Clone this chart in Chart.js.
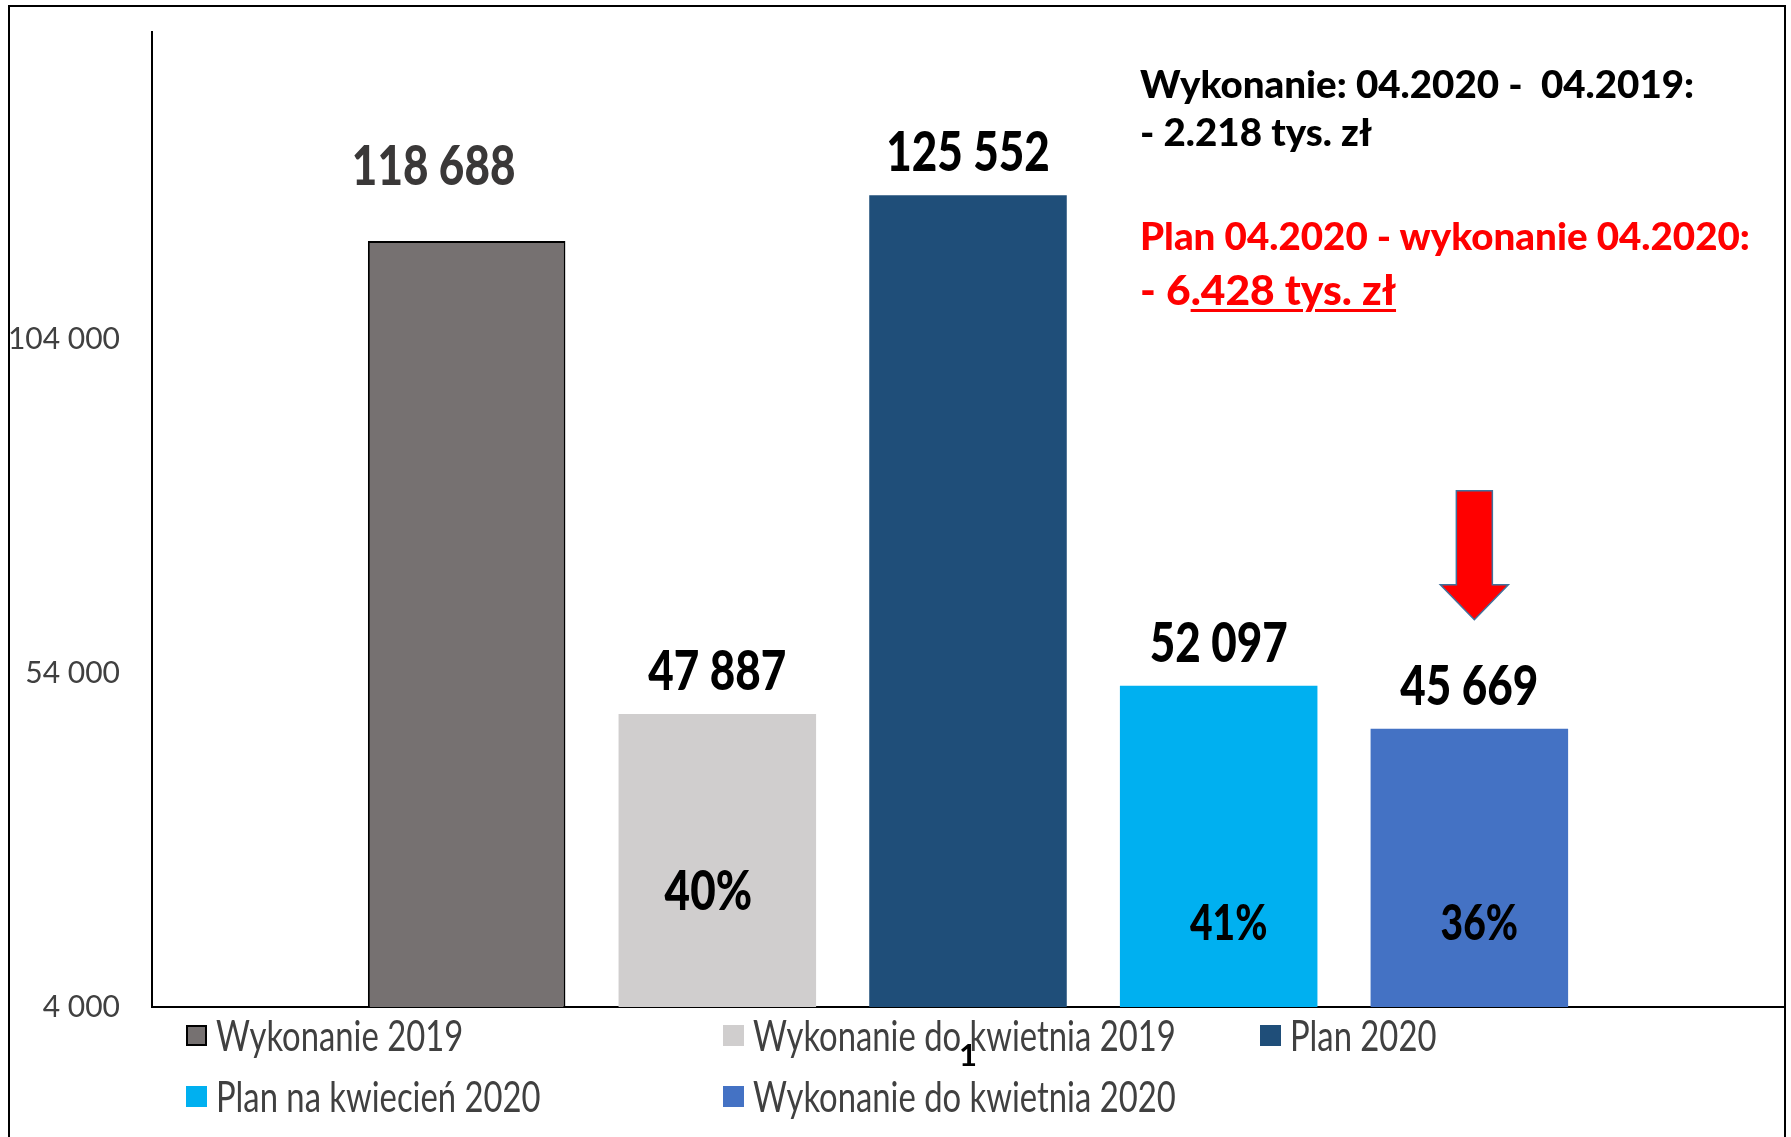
<!DOCTYPE html>
<html>
<head>
<meta charset="utf-8">
<script src="https://cdn.jsdelivr.net/npm/chart.js@4.4.1/dist/chart.umd.min.js"></script>
<style>
  html, body { margin: 0; padding: 0; background: #fff; }
  #page { position: relative; width: 1791px; height: 1137px; overflow: hidden; background: #fff; }
  #chart { position: absolute; left: 0; top: 0; }
  #frame { position: absolute; left: 8px; top: 5px; width: 1774px; height: 1300px; border: 2px solid #000; pointer-events: none; }
  .note { position: absolute; left: 1140px; font-family: Lato, sans-serif; font-weight: 900; white-space: pre; line-height: 1; }
  .black { color: #000; font-size: 38.5px; }
  .red { color: #ff0000; font-size: 38.5px; }
  .big { font-size: 42.5px; }
  .u { text-decoration: underline; text-decoration-thickness: 3px; text-underline-offset: 4px; }
  .legend-item { position: absolute; display: flex; align-items: center; height: 40px; margin-top: -20px;
    font-family: Lato, sans-serif; font-size: 32.8px; color: #404040; white-space: nowrap; }
  .legend-item span.t { display: inline-block; transform: scaleY(1.27); }
  .legend-box { width: 21px; height: 21px; margin-right: 9px; box-sizing: border-box; }
</style>
</head>
<body>
<div id="page">
  <canvas id="chart" width="1791" height="1137"></canvas>
  <div id="frame"></div>
  <div class="note black" style="top:64px">Wykonanie: 04.2020 -  04.2019:</div>
  <div class="note black" style="top:112px">- 2.218 tys. zł</div>
  <div class="note red" style="top:216px">Plan 04.2020 - wykonanie 04.2020:</div>
  <div class="note red big" style="top:268px">- 6<span class="u">.428 tys. zł</span></div>
  <div id="legend"></div>
</div>
<script>
const categories = ['1'];
const seriesNames = ['Wykonanie 2019', 'Wykonanie do kwietnia 2019', 'Plan 2020', 'Plan na kwiecień 2020', 'Wykonanie do kwietnia 2020'];
const seriesValues = [118688, 47887, 125552, 52097, 45669];
const shareLabels = [null, '40%', null, '41%', '36%'];
const yTicks = [4000, 54000, 104000];

const colors = ['#767171', '#d0cece', '#1f4e79', '#00b0f0', '#4472c4'];
const FONT = 'Lato, sans-serif';
const STRETCH = 1.27; // the original text is tall and narrow

function fmt(n) {
  return String(n).replace(/\B(?=(\d{3})+(?!\d))/g, ' ');
}

function tallText(ctx, text, x, y, font) {
  ctx.save();
  ctx.translate(x, y);
  ctx.scale(1, STRETCH);
  ctx.font = font;
  ctx.fillText(text, 0, 0);
  ctx.restore();
}

// value labels above bars, share labels inside bars, red arrow over the last bar
const barLabels = {
  id: 'barLabels',
  afterDatasetsDraw(chart) {
    const ctx = chart.ctx;
    const area = chart.chartArea;
    ctx.save();
    ctx.textAlign = 'center';
    ctx.textBaseline = 'alphabetic';
    chart.data.datasets.forEach((ds, i) => {
      const bar = chart.getDatasetMeta(i).data[0];
      ctx.fillStyle = i === 0 ? '#3a3838' : '#000';
      const dx = i === 0 ? -33 : 0;
      const lift = i === 0 ? 56 : 24;
      tallText(ctx, fmt(ds.data[0]), bar.x + dx, bar.y - lift, '900 44px ' + FONT);

      if (shareLabels[i]) {
        const first = i === 1;
        ctx.fillStyle = '#000';
        tallText(ctx, shareLabels[i], bar.x + (first ? -9 : 10), area.bottom - (first ? 97 : 67),
          '900 ' + (first ? 44 : 39) + 'px ' + FONT);
      }
    });

    // arrow
    const last = chart.getDatasetMeta(chart.data.datasets.length - 1).data[0];
    const ax = last.x + 5;
    const tip = last.y - 109;
    ctx.beginPath();
    ctx.moveTo(ax - 18, tip - 129);
    ctx.lineTo(ax + 18, tip - 129);
    ctx.lineTo(ax + 18, tip - 35);
    ctx.lineTo(ax + 34, tip - 35);
    ctx.lineTo(ax, tip);
    ctx.lineTo(ax - 34, tip - 35);
    ctx.lineTo(ax - 18, tip - 35);
    ctx.closePath();
    ctx.fillStyle = '#ff0000';
    ctx.fill();
    ctx.lineWidth = 1.5;
    ctx.strokeStyle = '#41719c';
    ctx.stroke();
    ctx.restore();
  }
};

const chart = new Chart(document.getElementById('chart'), {
  type: 'bar',
  data: {
    labels: categories,
    datasets: seriesNames.map((name, i) => ({
      label: name,
      data: [seriesValues[i]],
      backgroundColor: colors[i],
      borderColor: '#000',
      borderWidth: i === 0 ? 2 : 0,
      categoryPercentage: 0.768,
      barPercentage: 0.788
    }))
  },
  options: {
    responsive: false,
    animation: false,
    layout: { padding: { top: 32, right: 7, left: 0, bottom: 0 } },
    plugins: {
      legend: { display: false },
      tooltip: { enabled: false }
    },
    scales: {
      x: {
        grid: { display: true, color: 'transparent', drawTicks: false },
        border: { display: true, color: '#000', width: 2 },
        ticks: { color: '#000', padding: 30, font: { family: FONT, size: 31, weight: 'bold' } },
        afterFit(s) { s.height = 130; }
      },
      y: {
        min: 4000,
        max: 150000,
        grid: { display: true, color: 'transparent', drawTicks: false },
        border: { display: true, color: '#000', width: 2 },
        afterBuildTicks(s) { s.ticks = yTicks.map(v => ({ value: v })); },
        ticks: {
          color: '#404040',
          padding: 32,
          font: { family: FONT, size: 30 },
          callback: v => fmt(v)
        },
        afterFit(s) {
          s.width = 152;
          s.paddingTop = 0;
          s.paddingBottom = 0;
        }
      }
    }
  },
  plugins: [barLabels]
});

// legend in a grid below the chart
const legend = document.getElementById('legend');
chart.data.datasets.forEach((ds, i) => {
  const item = document.createElement('div');
  item.className = 'legend-item';
  item.style.left = (186 + (i % 3) * 537) + 'px';
  item.style.top = (1035 + Math.floor(i / 3) * 61) + 'px';
  const box = document.createElement('span');
  box.className = 'legend-box';
  box.style.background = ds.backgroundColor;
  if (ds.borderWidth) box.style.border = ds.borderWidth + 'px solid ' + ds.borderColor;
  const text = document.createElement('span');
  text.className = 't';
  text.textContent = ds.label;
  item.appendChild(box);
  item.appendChild(text);
  legend.appendChild(item);
});
</script>
</body>
</html>
